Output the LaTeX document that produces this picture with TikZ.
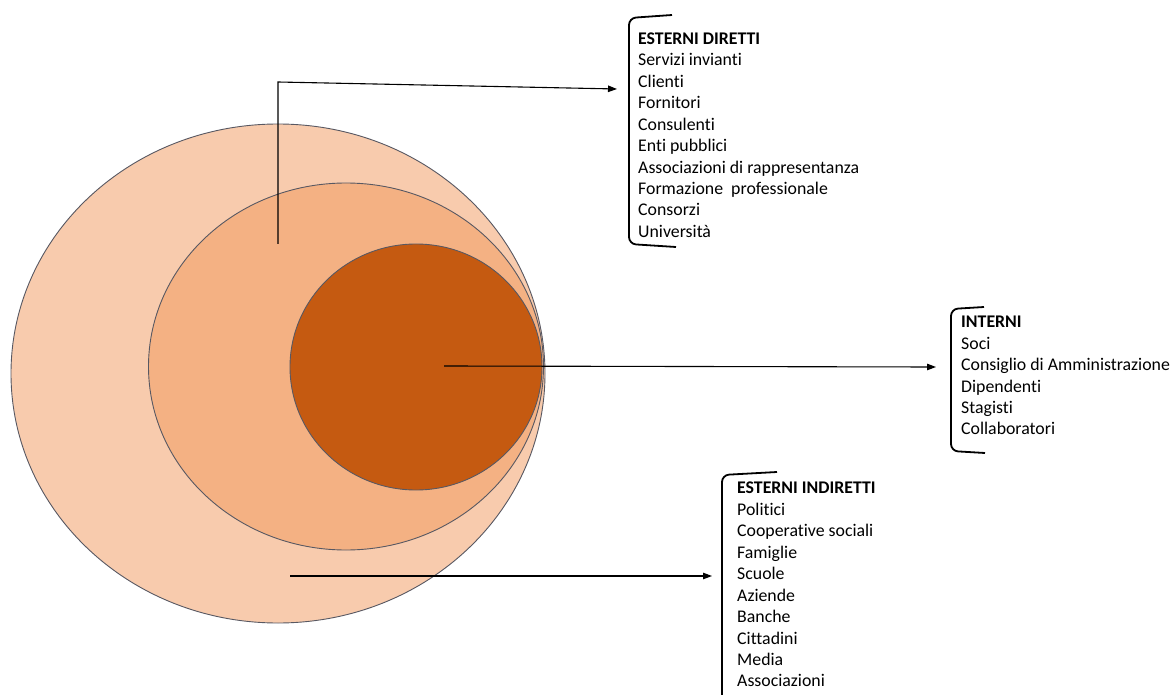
\documentclass[tikz,border=0pt]{standalone}
\usepackage{fontspec}
\setmainfont{Carlito}[RawFeature=-liga]
\usetikzlibrary{arrows.meta}
\definecolor{outerfill}{HTML}{F8CBAD}
\definecolor{midfill}{HTML}{F4B183}
\definecolor{innerfill}{HTML}{C55A11}
\definecolor{rimgray}{HTML}{585862}
\tikzset{
>={Triangle[length=9pt,width=6.5pt]}, % filled triangle heads
ring/.style={draw=rimgray, line width=0.9pt}, % outline of the three ellipses
pointer/.style={->, line width=1.1pt}, % arrows towards the lists
bracket/.style={line width=1.8pt, rounded corners=7pt}, % brackets left of the lists
list/.style={anchor=north west, align=left, inner sep=0pt, font=\fontsize{17.8}{21.45}\selectfont},
}

\begin{document}
\begin{tikzpicture}[x=1pt,y=-1pt]
        \useasboundingbox (0,0) rectangle (1170,695);

        % the three nested ellipses
        \filldraw[ring, fill=outerfill] (278,373.5) ellipse [x radius=267, y radius=249.5];
        \filldraw[ring, fill=midfill] (346,366.5) ellipse [x radius=197.5, y radius=183.5];
        \filldraw[ring, fill=innerfill] (416,367) ellipse [x radius=126, y radius=123];

        % lists
        \node[list] (diretti) at (638,32.5) {\textbf{ESTERNI DIRETTI}\\Servizi invianti\\Clienti\\Fornitori\\Consulenti\\Enti pubblici\\Associazioni di rappresentanza\\Formazione\ \ professionale\\Consorzi\\Università};
        \node[list] (interni) at (961,316) {\textbf{INTERNI}\\Soci\\Consiglio di Amministrazione\\Dipendenti\\Stagisti\\Collaboratori};
        \node[list] (indiretti) at (737,482) {\textbf{ESTERNI INDIRETTI}\\Politici\\Cooperative sociali\\Famiglie\\Scuole\\Aziende\\Banche\\Cittadini\\Media\\Associazioni};

        % brackets
        \draw[bracket] (672,15) -- (629,18) -- (629,244) -- (676,247);
        \draw[bracket] (984,307) -- (951,309) -- (951,451) -- (985,453);
        \draw[bracket] (777,472) -- (722,475) -- (722,705);

        % arrows
        \coordinate (dirStart) at (278,244);
        \coordinate (dirBend) at (278,82);
        \coordinate (dirEnd) at (617,89);
        \coordinate (intStart) at (444,366);
        \coordinate (intEnd) at (936,367);
        \coordinate (indStart) at (290,576);
        \coordinate (indEnd) at (712,576);

        \draw[pointer] (dirStart) -- (dirBend) -- (dirEnd);
        \draw[pointer] (intStart) -- (intEnd);
        \draw[pointer] (indStart) -- (indEnd);
\end{tikzpicture}
\end{document}
